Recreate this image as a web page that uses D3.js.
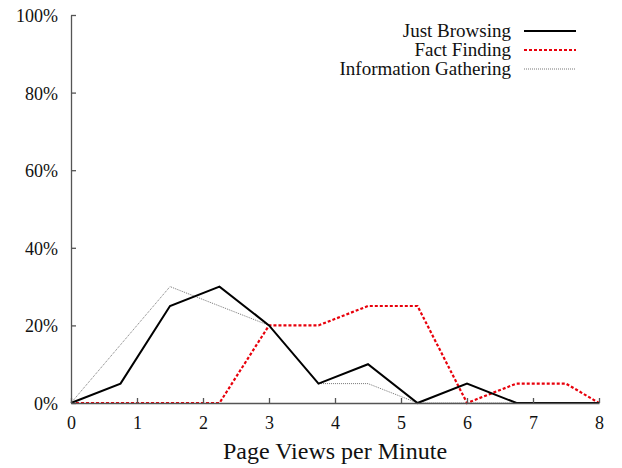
<!DOCTYPE html>
<html><head><meta charset="utf-8">
<script src="https://cdn.jsdelivr.net/npm/d3@7"></script>
</head><body style="margin:0"><svg id="c" width="622" height="468"></svg>
<script>
const xValues = [0, 0.75, 1.5, 2.25, 3, 3.75, 4.5, 5.25, 6, 6.75, 7.5, 8];
const justBrowsing = [0, 5, 25, 30, 20, 5, 10, 0, 5, 0, 0, 0];
const factFinding = [0, 0, 0, 0, 20, 20, 25, 25, 0, 5, 5, 0];
const infoGathering = [0, 15, 30, 25, 20, 5, 5, 0, 0, 0, 0, 0];
const seriesNames = ["Just Browsing", "Fact Finding", "Information Gathering"];
const xTicks = [0, 1, 2, 3, 4, 5, 6, 7, 8];
const yTicks = [0, 20, 40, 60, 80, 100];
const FONT = "'Liberation Serif'";

const svg = d3.select("#c");
const x = d3.scaleLinear().domain([0, 8]).range([71, 599]);
const y = d3.scaleLinear().domain([0, 100]).range([403, 15]);

const styles = [
  {data: justBrowsing, color: "#000", width: 2, dash: null},
  {data: factFinding, color: "#e8000b", width: 2.2, dash: "3,2"},
  {data: infoGathering, color: "#777", width: 1, dash: "1,1"}
];
const line = d3.line().x((d, i) => x(xValues[i])).y(d => y(d));
[2, 1, 0].forEach(k => {
  const s = styles[k];
  svg.append("path").datum(s.data).attr("d", line).attr("fill", "none")
    .attr("stroke", s.color).attr("stroke-width", s.width)
    .attr("stroke-dasharray", s.dash).attr("stroke-linejoin", "miter");
});

const xAxis = svg.append("g").attr("transform", "translate(0," + y(0) + ")")
  .call(d3.axisBottom(x).tickValues(xTicks).tickSizeInner(-5).tickSizeOuter(0).tickPadding(0));
const yAxis = svg.append("g").attr("transform", "translate(" + x(0) + ",0)")
  .call(d3.axisLeft(y).tickValues(yTicks).tickSizeInner(-5).tickSizeOuter(0).tickPadding(13).tickFormat(d => d + "%"));
[xAxis, yAxis].forEach(g => {
  g.attr("font-family", null).attr("font-size", null);
  g.selectAll("path").attr("stroke", "#555").attr("stroke-width", 1.3);
  g.selectAll("line").attr("stroke", "#555").attr("stroke-width", 1.3);
  g.selectAll("text").style("font-family", FONT).attr("font-size", 18).attr("fill", "#111");
});
xAxis.selectAll("text").attr("y", 26).attr("dy", null);
yAxis.selectAll("text").attr("dy", "0.36em");

svg.append("text").attr("x", (x(0) + x(8)) / 2).attr("y", 459).attr("text-anchor", "middle")
  .style("font-family", FONT).attr("font-size", 24).attr("fill", "#111").text("Page Views per Minute");

const legendY = [31, 50, 69];
seriesNames.forEach((name, i) => {
  const s = styles[i];
  svg.append("text").attr("x", 511).attr("y", legendY[i] + 6)
    .attr("text-anchor", "end").style("font-family", FONT).attr("font-size", 19)
    .attr("fill", "#111").text(name);
  svg.append("line").attr("x1", 524).attr("x2", 576).attr("y1", legendY[i]).attr("y2", legendY[i])
    .attr("stroke", s.color).attr("stroke-width", s.width).attr("stroke-dasharray", s.dash);
});
</script></body></html>
